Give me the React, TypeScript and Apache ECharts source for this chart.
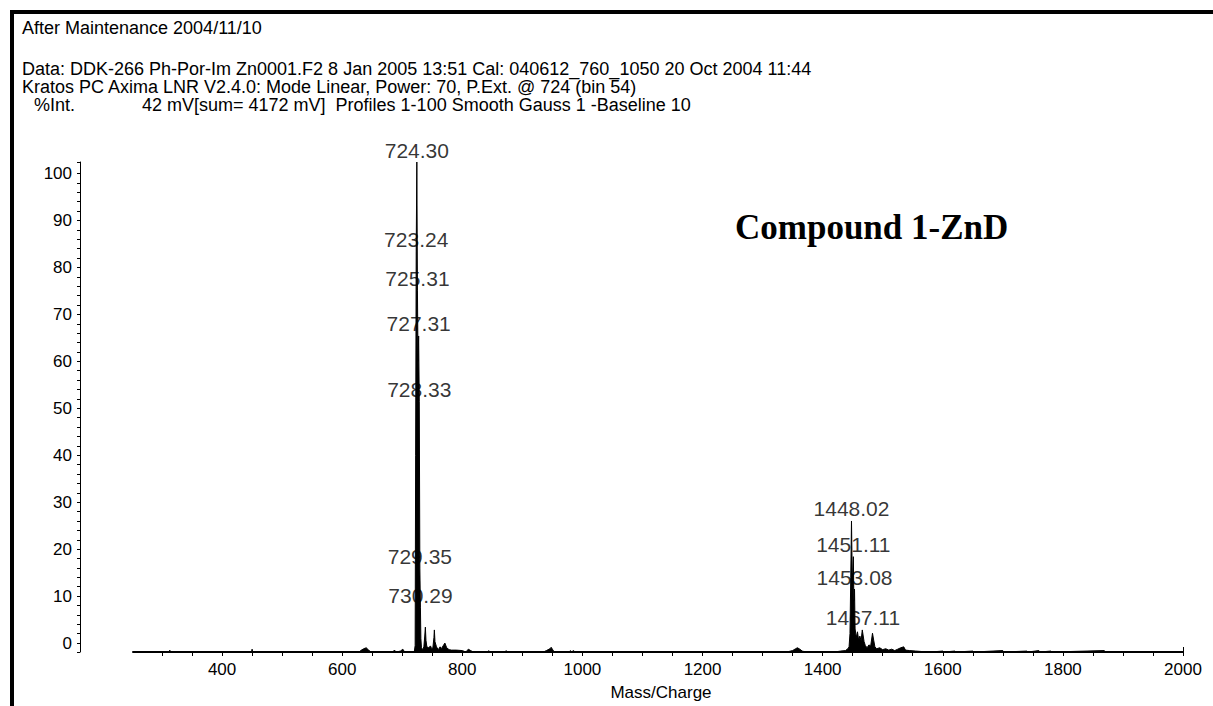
import React, { useEffect, useRef } from "react";
import * as echarts from "echarts";

// Spectrum trace, [m/z, %Int.] pairs, split by mass region
const lowMassTrace: [number, number][] = [
  [251.7, -1.9], [312, -1.9], [313, -1.5], [314, -1.9], [449, -1.9], [450, -1.3], [451, -1.9],
  [560, -1.9], [628, -1.9], [632, -1.5], [636, -1.2], [640, -1.0], [644, -1.5], [648, -1.9],
  [684, -1.9], [687, -1.5], [690, -1.9], [697, -1.7], [701, -1.3], [704, -1.9], [718, -1.9],
];

const monomerCluster: [number, number][] = [
  [720, -1.9], [721.5, -0.5], [722.3, 40], [723.24, 83.3], [724.3, 102.45],
  [725.31, 75], [726.3, 60], [727.31, 65.4], [728.33, 51.5], [729.35, 15.8], [730.29, 7.5],
  [731, 1], [732, -1.0], [734, -1.4], [736, -0.8], [737.5, 1.5], [738.5, 3.4], [739.5, 0.6],
  [741, -0.8], [744, -1.0], [747, -0.6], [749, -1.2], [751, -1.0], [752.8, 1.2], [753.5, 2.8],
  [754.5, 0.3], [757, -0.8], [760, -1.4], [763, -0.8], [765, -1.2], [768, -0.6], [771, 0],
  [774, -1.0], [778, -1.4], [782, -1.5], [790, -1.5], [800, -1.6], [806, -1.9], [810, -1.3],
  [814, -1.6], [818, -1.9],
];

const midTrace: [number, number][] = [
  [843, -1.9], [844, -1.6], [845, -1.9], [872, -1.9], [873, -1.6], [875, -1.9],
  [935, -1.9], [940, -1.6], [946, -1.2], [948, -0.9], [950, -1.3], [953, -1.9],
  [978, -1.9], [980, -1.6], [982, -1.9], [985, -1.6], [988, -1.9],
  [1340, -1.9], [1350, -1.6], [1355, -1.2], [1358, -1.0], [1362, -1.3], [1366, -1.7], [1372, -1.9],
  [1420, -1.9], [1430, -1.7], [1438, -1.6], [1442, -1.2],
];

const dimerCluster: [number, number][] = [
  [1444, -0.8], [1445.5, 2], [1446.8, 14], [1448.02, 26.0], [1449.3, 14], [1450.2, 15],
  [1451.11, 18.4], [1452, 9], [1453.08, 11.5], [1454, 3], [1456, 1.2], [1458, 2.4],
  [1460, 0.6], [1462, 1.5], [1464, 0.5], [1466, 2.8], [1467.11, 2.8], [1469, 0.3],
  [1471, -0.5], [1474, -1.0], [1477, -0.4], [1480, -0.6], [1483, 2.1], [1485, 0.6],
  [1487, -0.8], [1490, -1.2], [1495, -1.0], [1500, -1.4], [1505, -1.2], [1510, -1.5],
  [1515, -1.3], [1520, -1.6], [1525, -1.3], [1530, -1.0], [1535, -0.8], [1538, -1.5],
  [1545, -1.6], [1555, -1.7], [1565, -1.8],
];

const highMassTrace: [number, number][] = [
  [1580, -1.9], [1600, -1.7], [1602, -1.9], [1620, -1.7], [1622, -1.9], [1650, -1.7],
  [1652, -1.9], [1700, -1.6], [1702, -1.9], [1740, -1.7], [1742, -1.9], [1760, -1.6],
  [1762, -1.9], [1780, -1.7], [1782, -1.9], [1869, -1.6], [1870, -1.9], [2000, -1.9],
];

// Labelled peaks
const peakMz = [724.3, 723.24, 725.31, 727.31, 728.33, 729.35, 730.29, 1448.02, 1451.11, 1453.08, 1467.11];
const peakInt = [102.45, 83.3, 75, 65.4, 51.5, 15.8, 7.5, 26.0, 18.4, 11.5, 2.8];

// Axis ticks and labels
const massLabels = [400, 600, 800, 1000, 1200, 1400, 1600, 1800, 2000];
const massTicks = [
  300, 350, 400, 450, 500, 550, 600, 650, 700, 750, 800, 850, 900, 950, 1000, 1050, 1100,
  1150, 1200, 1250, 1300, 1350, 1400, 1450, 1500, 1550, 1600, 1650, 1700, 1750, 1800, 1850,
  1900, 1950, 2000,
];
const intLabels = [0, 10, 20, 30, 40, 50, 60, 70, 80, 90, 100];
const intTicks = [
  -1.9, 0, 2, 4, 6, 8, 10, 12, 14, 16, 18, 20, 22, 24, 26, 28, 30, 32, 34, 36, 38, 40, 42, 44,
  46, 48, 50, 52, 54, 56, 58, 60, 62, 64, 66, 68, 70, 72, 74, 76, 78, 80, 82, 84, 86, 88, 90,
  92, 94, 96, 98, 100, 102.45,
];

const headerLines = [
  { text: "After Maintenance 2004/11/10", x: 22, y: 28 },
  { text: "Data: DDK-266 Ph-Por-Im Zn0001.F2 8 Jan 2005 13:51 Cal: 040612_760_1050 20 Oct 2004 11:44", x: 22, y: 69 },
  { text: "Kratos PC Axima LNR V2.4.0: Mode Linear, Power: 70, P.Ext. @ 724 (bin 54)", x: 22, y: 87 },
  { text: "%Int.", x: 34, y: 105 },
  { text: "42 mV[sum= 4172 mV]  Profiles 1-100 Smooth Gauss 1 -Baseline 10", x: 142, y: 105 },
];

const SANS = '"Liberation Sans", Arial, sans-serif';

export default function App() {
  const ref = useRef<HTMLDivElement>(null);

  useEffect(() => {
    document.body.style.margin = "0";
    if (!ref.current) return;
    const chart = echarts.init(ref.current, null, { renderer: "svg" });

    const spectrum = [...lowMassTrace, ...monomerCluster, ...midTrace, ...dimerCluster, ...highMassTrace];
    const peaks = peakMz.map((m, i) => [m, peakInt[i]]);

    const graphics: any[] = [
      { type: "rect", shape: { x: 10, y: 10, width: 1203, height: 4 }, style: { fill: "#000" }, silent: true },
      { type: "rect", shape: { x: 10, y: 10, width: 4, height: 696 }, style: { fill: "#000" }, silent: true },
      ...headerLines.map((h) => ({
        type: "text",
        x: h.x,
        y: h.y,
        style: {
          text: h.text,
          font: `18px ${SANS}`,
          lineHeight: 18,
          fill: "#000",
          verticalAlign: "middle",
          align: "left",
        },
      })),
      {
        type: "text",
        x: 661,
        y: 692,
        style: { text: "Mass/Charge", font: `17px ${SANS}`, fill: "#000", verticalAlign: "middle", align: "center" },
      },
      {
        type: "text",
        x: 735,
        y: 227,
        style: {
          text: "Compound 1-ZnD",
          font: 'bold 35px "Liberation Serif", "Times New Roman", serif',
          fill: "#000",
          verticalAlign: "middle",
          align: "left",
        },
      },
    ];

    const plain = (v: number) => String(v);

    chart.setOption({
      animation: false,
      backgroundColor: "#fff",
      grid: { left: 133, right: 30, top: 162, bottom: 54 },
      xAxis: [
        {
          type: "value",
          min: 251.7,
          max: 2000,
          axisLine: { show: true, onZero: false, lineStyle: { color: "#000", width: 2 } },
          axisTick: { show: true, customValues: massTicks, length: 4, lineStyle: { color: "#000", width: 1 } },
          axisLabel: { customValues: massLabels, formatter: plain, color: "#000", fontSize: 17, fontFamily: SANS, margin: 9 },
          splitLine: { show: false },
        },
        {
          type: "value",
          min: 251.7,
          max: 2000,
          position: "bottom",
          axisLine: { show: false, onZero: false },
          axisTick: { show: true, inside: true, customValues: [2000], length: 5, lineStyle: { color: "#000", width: 1 } },
          axisLabel: { show: false },
          splitLine: { show: false },
        },
      ],
      yAxis: {
        type: "value",
        min: -1.9,
        max: 102.45,
        offset: 53,
        axisLine: { show: true, lineStyle: { color: "#000", width: 1 } },
        axisTick: { show: true, customValues: intTicks, length: 3, lineStyle: { color: "#000", width: 1 } },
        axisLabel: { customValues: intLabels, formatter: plain, color: "#000", fontSize: 17, fontFamily: SANS, margin: 8 },
        splitLine: { show: false },
      },
      graphic: graphics,
      series: [
        {
          type: "line",
          data: spectrum,
          showSymbol: false,
          symbol: "none",
          lineStyle: { color: "#000", width: 1 },
          areaStyle: { color: "#000", opacity: 1, origin: "start" },
          clip: true,
          z: 2,
        },
        {
          type: "scatter",
          data: peaks,
          symbolSize: 1,
          itemStyle: { color: "rgba(0,0,0,0)" },
          label: {
            show: true,
            position: "top",
            distance: 1,
            color: "#000",
            fontSize: 21,
            fontFamily: SANS,
            formatter: (p: any) => p.value[0].toFixed(2),
          },
          z: 5,
        },
      ],
    });

    return () => chart.dispose();
  }, []);

  return <div ref={ref} style={{ width: 1213, height: 706 }} />;
}
